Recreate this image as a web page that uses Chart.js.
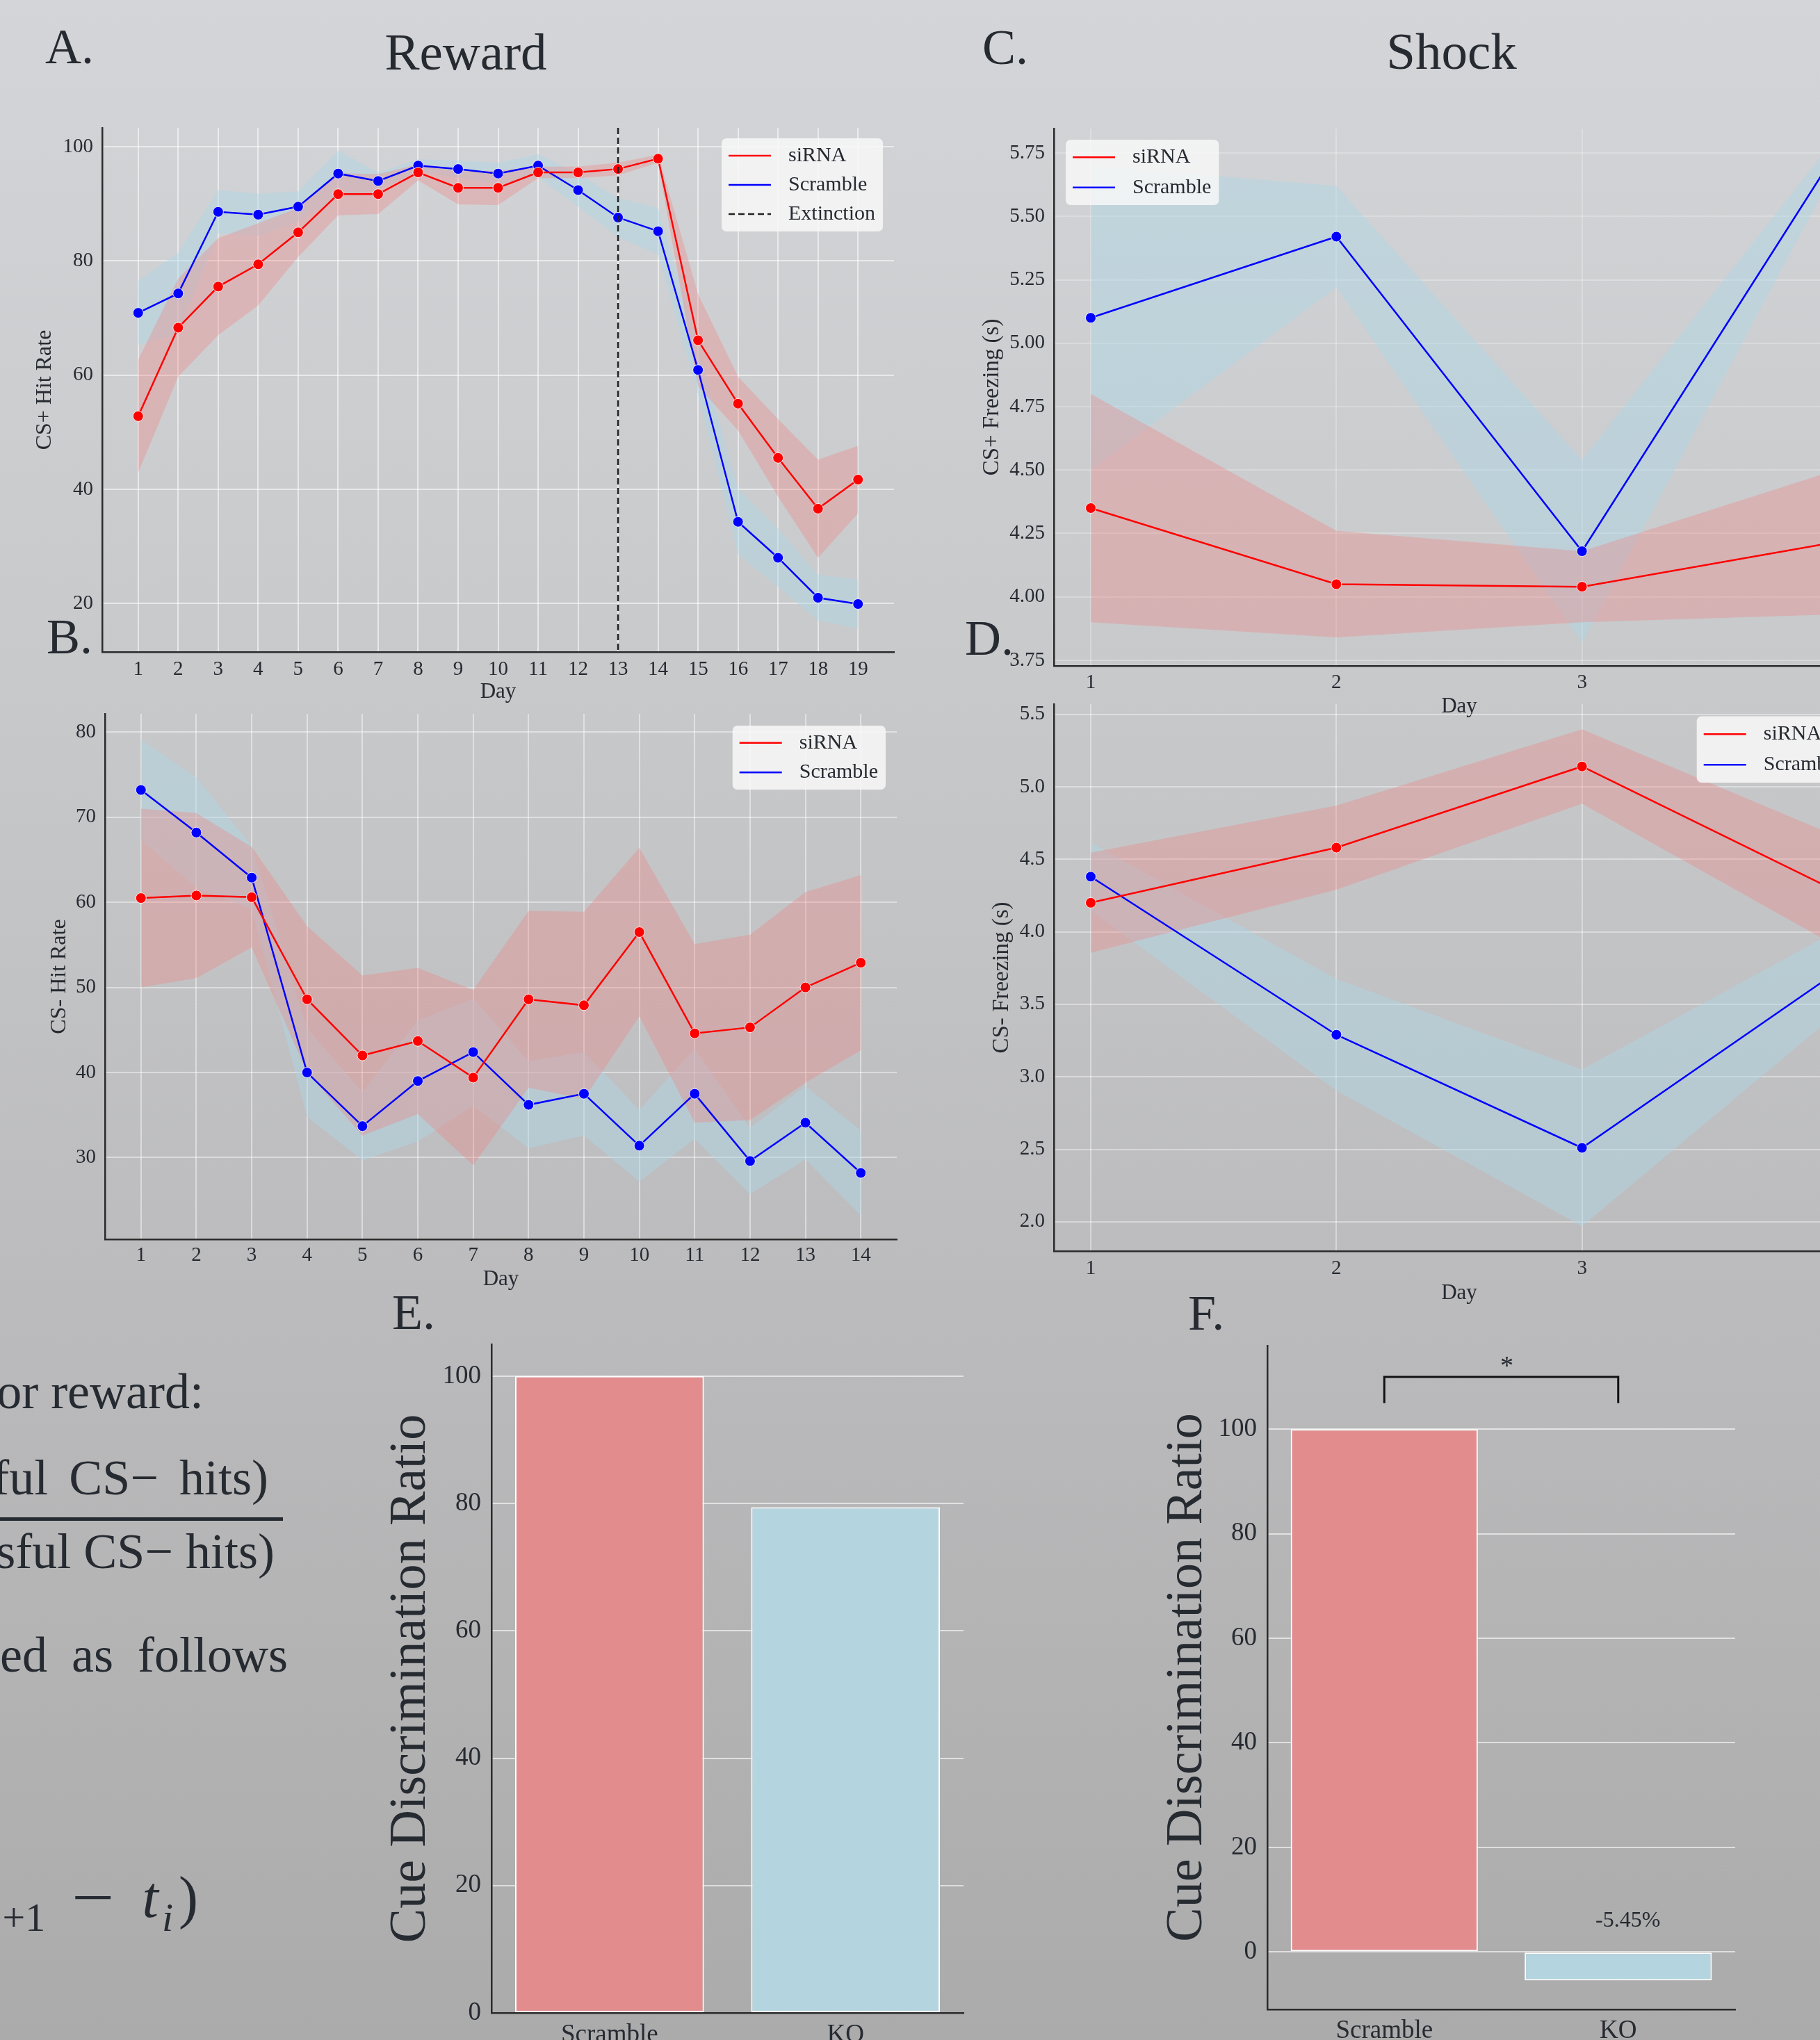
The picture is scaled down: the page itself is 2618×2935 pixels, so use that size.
<!DOCTYPE html>
<html>
<head>
<meta charset="utf-8">
<title>Reward / Shock</title>
<script src="https://cdn.jsdelivr.net/npm/chart.js@4.4.1/dist/chart.umd.min.js"></script>
<style>
  html, body { margin: 0; padding: 0; overflow: hidden; }
  body {
    position: relative;
    width: 2618px;
    height: 2935px;
    background: linear-gradient(to bottom, #d4d5d8 0%, #c8c9cb 33%, #bcbcbe 62%, #ababab 100%);
    font-family: 'Liberation Serif', 'Times New Roman', serif;
    color: #262a31;
  }
  canvas { position: absolute; }
  .txt { position: absolute; line-height: 1; white-space: nowrap; }
  .mid { transform: translateX(-50%); }
  .sb { font-size: 58px; vertical-align: -20px; }
  .minus { display: inline-block; transform: scaleX(1.3); margin: 0 47px 0 45px; }
</style>
</head>
<body>

<!-- panel titles and letters -->
<div class="txt" style="left:65px; top:31px; font-size:72px">A.</div>
<div class="txt" style="left:67px; top:880px; font-size:72px">B.</div>
<div class="txt" style="left:1413px; top:32px; font-size:72px">C.</div>
<div class="txt" style="left:1388px; top:882px; font-size:72px">D.</div>
<div class="txt" style="left:564px; top:1852px; font-size:72px">E.</div>
<div class="txt" style="left:1709px; top:1853px; font-size:72px">F.</div>
<div class="txt mid" style="left:670px; top:37px; font-size:75px">Reward</div>
<div class="txt mid" style="left:2088px; top:36px; font-size:75px">Shock</div>

<!-- cropped formula text on the left -->
<div class="txt" style="right:2325px; top:1966px; font-size:72px">for reward:</div>
<div class="txt" style="right:2232px; top:2090px; font-size:72px; word-spacing:12px">(successful CS− hits)</div>
<div style="position:absolute; left:0; top:2183px; width:407px; height:5px; background:#262a31"></div>
<div class="txt" style="right:2223px; top:2196px; font-size:72px">(successful CS+ hits + successful CS− hits)</div>
<div class="txt" style="right:2204px; top:2345px; font-size:72px; word-spacing:17px">is calculated as follows</div>
<div class="txt" style="right:2333px; top:2688px; font-size:84px">(<i>t</i><span class="sb"><i style="margin-right:6px">i</i>+1</span><span class="minus">−</span><i>t</i><span class="sb" style="margin:0 8px 0 5px"><i>i</i></span>)</div>

<canvas id="panelA" width="1259" height="844" style="left:37px; top:174px"></canvas>
<canvas id="panelB" width="1259" height="846" style="left:41px; top:1017px"></canvas>
<canvas id="panelC" width="1296" height="863" style="left:1396px; top:175px"></canvas>
<canvas id="panelD" width="1296" height="877" style="left:1396px; top:1003px"></canvas>
<canvas id="panelE" width="859" height="1052" style="left:537px; top:1924px"></canvas>
<canvas id="panelF" width="853" height="1045" style="left:1653px; top:1926px"></canvas>

<script>
const FONT = "'Liberation Serif', 'Times New Roman', serif";
const TEXT = '#262a31';
const RED = '#ff0000';
const BLUE = '#0000ff';
const RED_BAND = 'rgba(240, 128, 128, 0.33)';
const BLUE_BAND = 'rgba(173, 216, 230, 0.45)';
const BAR_COLORS = ['#e28c8e', '#b4d5e0'];

// Reward, CS+ (panel A)
const rewardPlusDays = [1, 2, 3, 4, 5, 6, 7, 8, 9, 10, 11, 12, 13, 14, 15, 16, 17, 18, 19];
const rewardPlusSirna = [52.8, 68.3, 75.5, 79.4, 85.0, 91.7, 91.7, 95.5, 92.8, 92.8, 95.5, 95.5, 96.1, 97.9, 66.1, 55.0, 45.5, 36.6, 41.7];
const rewardPlusSirnaErr = [9.9, 8.6, 8.5, 7.2, 4.3, 3.7, 3.5, 1.4, 2.9, 3.0, 1.0, 1.0, 1.1, 0.7, 8.1, 4.7, 6.8, 8.6, 5.9];
const rewardPlusScramble = [70.9, 74.3, 88.6, 88.1, 89.5, 95.3, 94.0, 96.7, 96.1, 95.3, 96.7, 92.4, 87.6, 85.2, 60.9, 34.3, 28.0, 21.0, 19.9];
const rewardPlusScrambleErr = [5.6, 7.1, 3.8, 3.7, 2.7, 4.0, 1.5, 1.1, 1.5, 1.9, 2.0, 2.9, 3.4, 4.1, 4.3, 5.7, 5.1, 4.0, 4.3];
const rewardPlusTicks = [20, 40, 60, 80, 100];
const extinctionDay = 13;

// Reward, CS- (panel B)
const rewardMinusDays = [1, 2, 3, 4, 5, 6, 7, 8, 9, 10, 11, 12, 13, 14];
const rewardMinusSirna = [60.5, 60.8, 60.6, 48.6, 42.0, 43.7, 39.4, 48.6, 47.9, 56.5, 44.6, 45.3, 50.0, 52.9];
const rewardMinusSirnaErr = [10.5, 9.7, 5.9, 8.6, 9.4, 8.6, 10.3, 10.4, 11.0, 9.9, 10.5, 10.9, 11.2, 10.3];
const rewardMinusScramble = [73.2, 68.2, 62.9, 40.0, 33.7, 39.0, 42.4, 36.2, 37.5, 31.4, 37.5, 29.6, 34.1, 28.2];
const rewardMinusScrambleErr = [5.9, 6.5, 3.7, 5.2, 4.0, 7.1, 6.3, 5.1, 4.9, 4.2, 5.3, 3.9, 4.3, 5.0];
const rewardMinusTicks = [30, 40, 50, 60, 70, 80];

// Shock, CS+ (panel C) and CS- (panel D)
const shockDays = [1, 2, 3, 4];
const shockPlusSirna = [4.35, 4.05, 4.04, 4.21];
const shockPlusSirnaErr = [0.45, 0.21, 0.14, 0.28];
const shockPlusScramble = [5.10, 5.42, 4.18, 5.70];
const shockPlusScrambleErr = [0.60, 0.20, 0.36, 0.07];
const shockPlusTicks = [3.75, 4.00, 4.25, 4.50, 4.75, 5.00, 5.25, 5.50, 5.75];

const shockMinusSirna = [4.20, 4.58, 5.14, 4.31];
const shockMinusSirnaErr = [0.345, 0.29, 0.256, 0.375];
const shockMinusScramble = [4.38, 3.29, 2.51, 3.68];
const shockMinusScrambleErr = [0.234, 0.385, 0.54, 0.295];
const shockMinusTicks = [2.0, 2.5, 3.0, 3.5, 4.0, 4.5, 5.0, 5.5];

// Cue discrimination ratio (panels E and F)
const groups = ['Scramble', 'KO'];
const rewardRatio = [100, 79.4];
const shockRatio = [100, -5.45];
const ratioTicks = [0, 20, 40, 60, 80, 100];

Chart.defaults.font.family = FONT;
Chart.defaults.color = TEXT;

// Fixed axis sizes so the plot areas land where they should
function fixHeight(h) {
  return s => { s.height = h; s.paddingLeft = 0; s.paddingRight = 0; };
}
function fixWidth(w) {
  return s => { s.width = w; s.paddingTop = 0; s.paddingBottom = 0; };
}

// Legend drawn inside the plot area, matplotlib style
function drawLegend(chart, lg) {
  const { ctx, chartArea: a } = chart;
  ctx.save();
  ctx.font = `${lg.size}px ${FONT}`;
  const textW = Math.max(...lg.items.map(it => ctx.measureText(it.label).width));
  const w = lg.padL + lg.lineLen + lg.gap + textW + lg.padR;
  const h = lg.items.length * lg.rowH + 2 * lg.padV;
  const x = lg.side === 'right' ? a.right - lg.dx - w : a.left + lg.dx;
  const y = a.top + lg.dy;
  ctx.fillStyle = 'rgba(248, 248, 248, 0.85)';
  ctx.beginPath();
  ctx.roundRect(x, y, w, h, 7);
  ctx.fill();
  lg.items.forEach((it, i) => {
    const cy = y + lg.padV + lg.rowH * (i + 0.5);
    ctx.strokeStyle = it.color;
    ctx.lineWidth = 2.5;
    ctx.setLineDash(it.dash || []);
    ctx.beginPath();
    ctx.moveTo(x + lg.padL, cy);
    ctx.lineTo(x + lg.padL + lg.lineLen, cy);
    ctx.stroke();
    ctx.setLineDash([]);
    ctx.fillStyle = TEXT;
    ctx.textAlign = 'left';
    ctx.textBaseline = 'middle';
    ctx.fillText(it.label, x + lg.padL + lg.lineLen + lg.gap, cy);
  });
  ctx.restore();
}

// Extra drawing per panel: legend, extinction line, significance bracket
function makeExtras(cfg) {
  return {
    id: 'extras',
    afterDatasetsDraw(chart) {
      const { ctx, chartArea: a, scales } = chart;
      if (cfg.vline !== undefined) {
        const x = scales.x.getPixelForValue(cfg.vline);
        ctx.save();
        ctx.strokeStyle = '#222222';
        ctx.lineWidth = 2.5;
        ctx.setLineDash([9, 5]);
        ctx.beginPath();
        ctx.moveTo(x, a.top);
        ctx.lineTo(x, a.bottom);
        ctx.stroke();
        ctx.restore();
      }
      if (cfg.bracket) {
        const b = cfg.bracket;
        const x0 = scales.x.getPixelForValue(0);
        const x1 = scales.x.getPixelForValue(1);
        const yTop = scales.y.getPixelForValue(b.top);
        const yEnd = scales.y.getPixelForValue(b.end);
        ctx.save();
        ctx.strokeStyle = '#111111';
        ctx.lineWidth = 3;
        ctx.beginPath();
        ctx.moveTo(x0, yEnd);
        ctx.lineTo(x0, yTop);
        ctx.lineTo(x1, yTop);
        ctx.lineTo(x1, yEnd);
        ctx.stroke();
        ctx.fillStyle = TEXT;
        ctx.textAlign = 'center';
        ctx.font = `38px ${FONT}`;
        ctx.textBaseline = 'alphabetic';
        ctx.fillText('*', (x0 + x1) / 2 + 8, yTop - 4);
        ctx.font = `32px ${FONT}`;
        ctx.textBaseline = 'middle';
        ctx.fillText(b.label, x1 + 14, scales.y.getPixelForValue(b.labelY));
        ctx.restore();
      }
    },
    afterDraw(chart) {
      if (cfg.legend) drawLegend(chart, cfg.legend);
    }
  };
}

// Mean line plus shaded error band for both groups
function lineSets(days, sirna, sirnaErr, scramble, scrambleErr) {
  const band = (mean, err, sign) => days.map((d, i) => ({ x: d, y: mean[i] + sign * err[i] }));
  const pts = mean => days.map((d, i) => ({ x: d, y: mean[i] }));
  const bandStyle = { borderWidth: 0, borderColor: 'transparent', pointRadius: 0, pointHoverRadius: 0, order: 3 };
  const lineStyle = c => ({
    borderColor: c, backgroundColor: c, borderWidth: 2.5, fill: false, order: 1,
    pointRadius: 7.5, pointHoverRadius: 7.5, pointBackgroundColor: c,
    pointBorderColor: 'rgba(255, 255, 255, 0.85)', pointBorderWidth: 1
  });
  return [
    { data: band(sirna, sirnaErr, 1), fill: '+1', backgroundColor: RED_BAND, ...bandStyle },
    { data: band(sirna, sirnaErr, -1), fill: false, ...bandStyle },
    { data: band(scramble, scrambleErr, 1), fill: '+1', backgroundColor: BLUE_BAND, ...bandStyle },
    { data: band(scramble, scrambleErr, -1), fill: false, ...bandStyle },
    { label: 'siRNA', data: pts(sirna), ...lineStyle(RED) },
    { label: 'Scramble', data: pts(scramble), ...lineStyle(BLUE) }
  ];
}

function linePanel(id, p) {
  return new Chart(document.getElementById(id), {
    type: 'line',
    data: { datasets: lineSets(p.days, p.sirna, p.sirnaErr, p.scramble, p.scrambleErr) },
    options: {
      responsive: false,
      animation: false,
      devicePixelRatio: 1,
      layout: { padding: { top: 10, right: 10, left: 0, bottom: 0 } },
      plugins: { legend: { display: false }, tooltip: { enabled: false } },
      scales: {
        x: {
          type: 'linear',
          min: p.xMin, max: p.xMax,
          afterBuildTicks: s => { s.ticks = p.days.map(v => ({ value: v })); },
          afterFit: fixHeight(80),
          grid: { color: p.gridColor, lineWidth: 2, drawTicks: false },
          border: { display: true, color: '#2b2b2b', width: 2.5 },
          ticks: { font: { size: 29 }, padding: p.xTickPad, color: TEXT, autoSkip: false, maxRotation: 0 },
          title: { display: true, text: 'Day', font: { size: 31 }, color: TEXT, padding: { top: 0, bottom: p.xTitlePad } }
        },
        y: {
          min: p.yMin, max: p.yMax,
          afterBuildTicks: s => { s.ticks = p.yTicks.map(v => ({ value: v })); },
          afterFit: fixWidth(p.yWidth),
          grid: { color: p.gridColor, lineWidth: 2, drawTicks: false },
          border: { display: true, color: '#2b2b2b', width: 2.5 },
          ticks: { font: { size: 29 }, padding: 13, color: TEXT, callback: v => v.toFixed(p.decimals) },
          title: { display: true, text: p.yLabel, font: { size: p.yLabelSize }, color: TEXT, padding: { top: p.yTitlePad, bottom: 0 } }
        }
      }
    },
    plugins: [makeExtras({ legend: p.legend, vline: p.vline })]
  });
}

function barPanel(id, p) {
  return new Chart(document.getElementById(id), {
    type: 'bar',
    data: {
      labels: groups,
      datasets: [{
        data: p.values,
        backgroundColor: BAR_COLORS,
        borderColor: '#ffffff',
        borderWidth: 2,
        borderSkipped: false,
        barPercentage: 0.8,
        categoryPercentage: 1
      }]
    },
    options: {
      responsive: false,
      animation: false,
      devicePixelRatio: 1,
      layout: { padding: { top: 10, right: 10, left: 0, bottom: 0 } },
      plugins: { legend: { display: false }, tooltip: { enabled: false } },
      scales: {
        x: {
          afterFit: fixHeight(80),
          grid: { display: false, drawTicks: false },
          border: { display: true, color: '#2b2b2b', width: 2.5 },
          ticks: { font: { size: 37 }, padding: p.xTickPad, color: TEXT }
        },
        y: {
          min: p.yMin, max: p.yMax,
          afterBuildTicks: s => { s.ticks = ratioTicks.map(v => ({ value: v })); },
          afterFit: fixWidth(170),
          grid: { color: 'rgba(255, 255, 255, 0.6)', lineWidth: 2, drawTicks: false },
          border: { display: true, color: '#2b2b2b', width: 2.5 },
          ticks: { font: { size: 37 }, padding: 15, color: TEXT },
          title: { display: true, text: 'Cue Discrimination Ratio', font: { size: 74 }, color: TEXT, padding: { top: p.yTitlePad, bottom: 0 } }
        }
      }
    },
    plugins: [makeExtras({ bracket: p.bracket })]
  });
}

const legendBase = { size: 30, padL: 10, lineLen: 61, gap: 25, padR: 11 };
const twoItems = [{ label: 'siRNA', color: RED }, { label: 'Scramble', color: BLUE }];

linePanel('panelA', {
  days: rewardPlusDays, sirna: rewardPlusSirna, sirnaErr: rewardPlusSirnaErr,
  scramble: rewardPlusScramble, scrambleErr: rewardPlusScrambleErr,
  xMin: 0.1, xMax: 19.9, yMin: 11.5, yMax: 103.3, yTicks: rewardPlusTicks, decimals: 0,
  yLabel: 'CS+ Hit Rate', yLabelSize: 32, yWidth: 110, yTitlePad: 8.8,
  xTickPad: 7.6, xTitlePad: 3.9, gridColor: 'rgba(255, 255, 255, 0.55)',
  vline: extinctionDay,
  legend: { ...legendBase, side: 'right', dx: 16, dy: 15, rowH: 42, padV: 4,
    items: [...twoItems, { label: 'Extinction', color: '#222222', dash: [9, 5] }] }
});

linePanel('panelB', {
  days: rewardMinusDays, sirna: rewardMinusSirna, sirnaErr: rewardMinusSirnaErr,
  scramble: rewardMinusScramble, scrambleErr: rewardMinusScrambleErr,
  xMin: 0.35, xMax: 14.65, yMin: 20.4, yMax: 82.15, yTicks: rewardMinusTicks, decimals: 0,
  yLabel: 'CS- Hit Rate', yLabelSize: 32, yWidth: 110, yTitlePad: 25.8,
  xTickPad: 6.2, xTitlePad: 3.4, gridColor: 'rgba(255, 255, 255, 0.45)',
  legend: { ...legendBase, side: 'right', dx: 16, dy: 17, rowH: 42.6, padV: 3.4, items: twoItems }
});

linePanel('panelC', {
  days: shockDays, sirna: shockPlusSirna, sirnaErr: shockPlusSirnaErr,
  scramble: shockPlusScramble, scrambleErr: shockPlusScrambleErr,
  xMin: 0.85, xMax: 4.15, yMin: 3.728, yMax: 5.846, yTicks: shockPlusTicks, decimals: 2,
  yLabel: 'CS+ Freezing (s)', yLabelSize: 33, yWidth: 120, yTitlePad: 11.9,
  xTickPad: 6.6, xTitlePad: 2.1, gridColor: 'rgba(255, 255, 255, 0.25)',
  legend: { ...legendBase, side: 'left', dx: 17, dy: 16, rowH: 43.6, padV: 3.4, items: twoItems }
});

linePanel('panelD', {
  days: shockDays, sirna: shockMinusSirna, sirnaErr: shockMinusSirnaErr,
  scramble: shockMinusScramble, scrambleErr: shockMinusScrambleErr,
  xMin: 0.85, xMax: 4.15, yMin: 1.798, yMax: 5.57, yTicks: shockMinusTicks, decimals: 1,
  yLabel: 'CS- Freezing (s)', yLabelSize: 33, yWidth: 120, yTitlePad: 25.2,
  xTickPad: 7.6, xTitlePad: 0.4, gridColor: 'rgba(255, 255, 255, 0.4)',
  legend: { ...legendBase, side: 'right', dx: 21, dy: 17.5, rowH: 44, padV: 3.8, items: twoItems }
});

barPanel('panelE', { values: rewardRatio, yMin: 0, yMax: 105, yTitlePad: 10.6, xTickPad: 10 });

barPanel('panelF', {
  values: shockRatio, yMin: -11, yMax: 116, yTitlePad: 11.2, xTickPad: 8.8,
  bracket: { top: 110, end: 105, labelY: 6, label: `${shockRatio[1]}%` }
});
</script>
</body>
</html>
